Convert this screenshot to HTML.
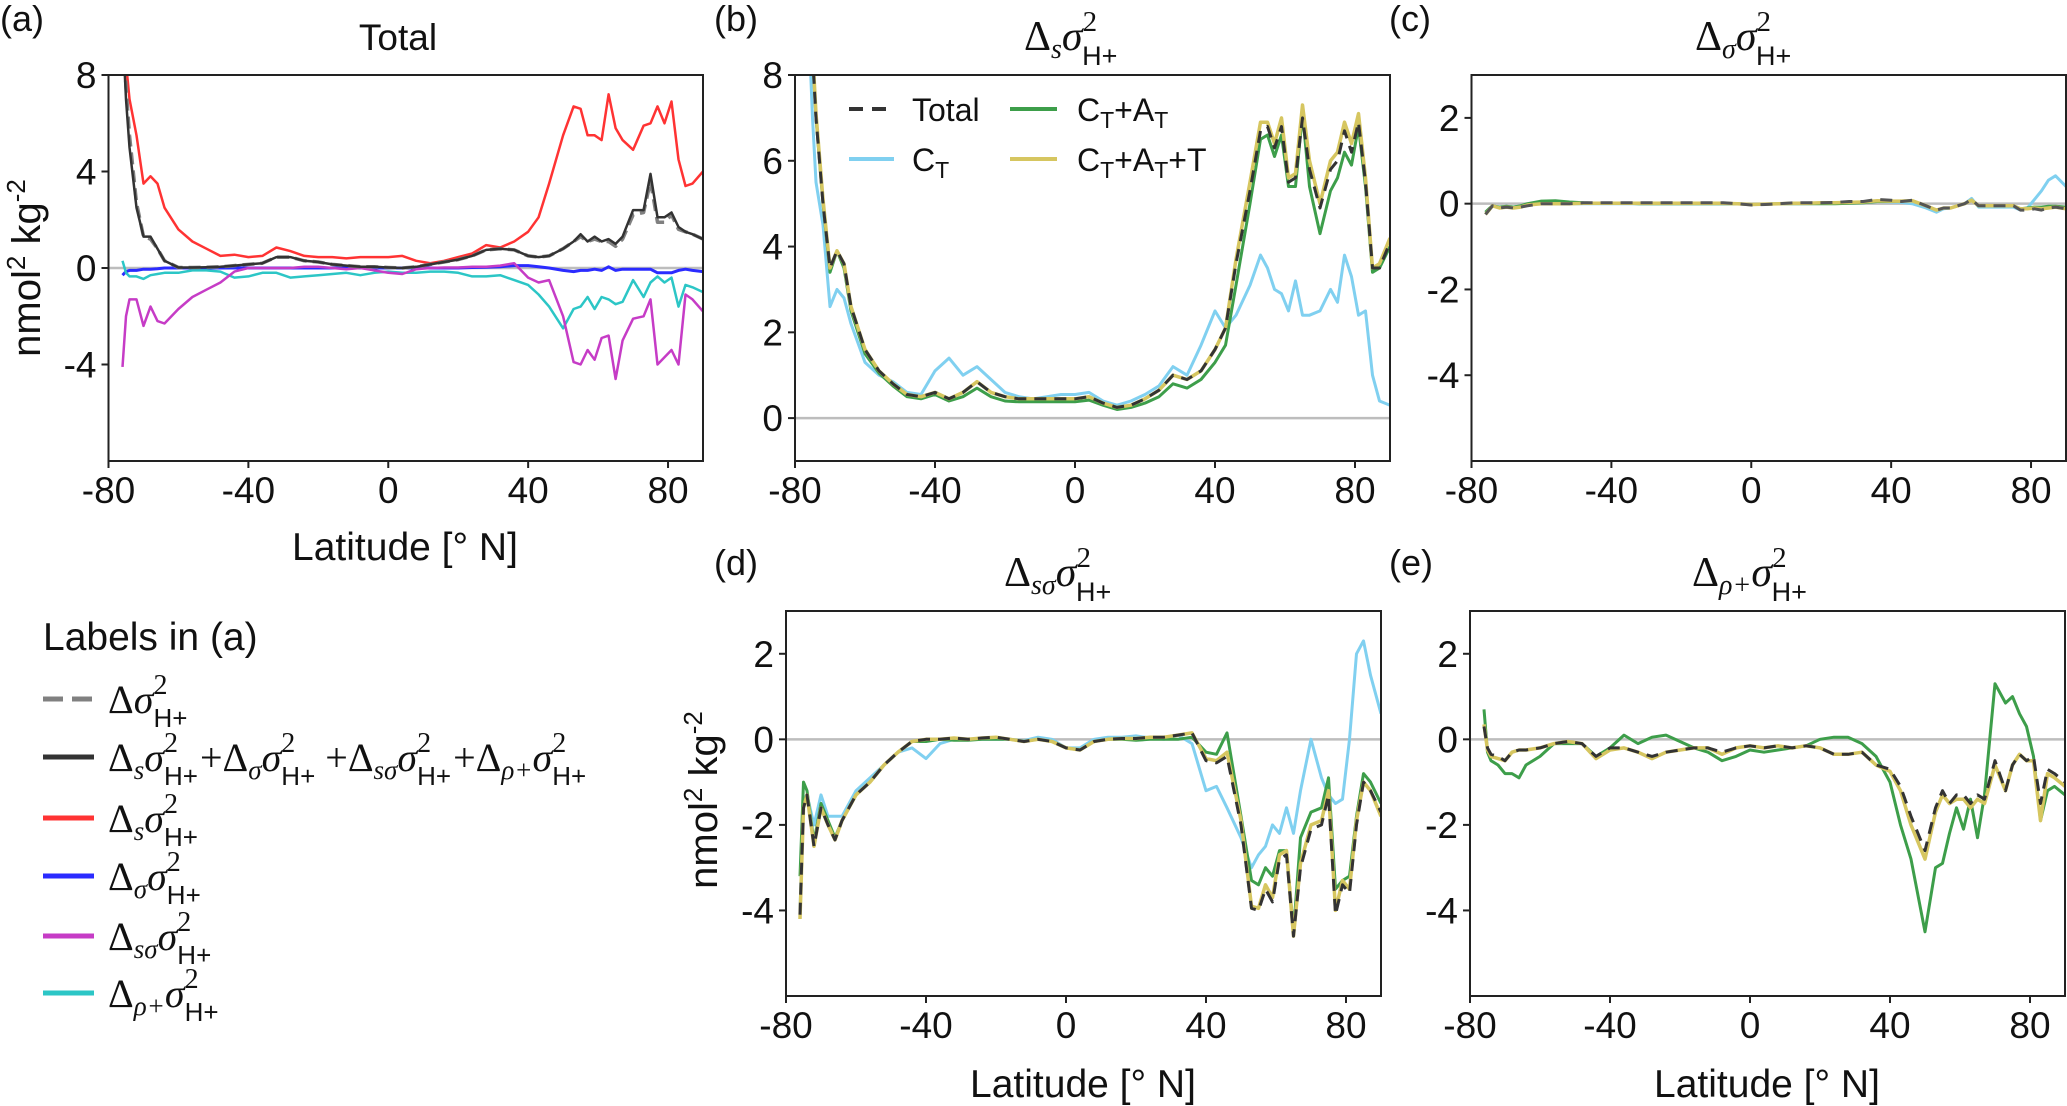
<!DOCTYPE html>
<html><head><meta charset="utf-8">
<style>
html,body{margin:0;padding:0;background:#fff;}
svg{display:block;}
text{font-family:"Liberation Sans",sans-serif;fill:#111;}
.m{font-family:"Liberation Serif",serif;}
</style></head>
<body>
<svg id="fig" width="2067" height="1106" viewBox="0 0 2067 1106" xmlns="http://www.w3.org/2000/svg">
<!-- panel letters -->
<text x="0" y="31" font-size="36">(a)</text>
<text x="714" y="31" font-size="36">(b)</text>
<text x="1389" y="31" font-size="36">(c)</text>
<text x="714" y="575" font-size="36">(d)</text>
<text x="1389" y="575" font-size="36">(e)</text>

<!-- titles -->
<text x="398" y="50" font-size="37" text-anchor="middle">Total</text>
<text class="m" x="1024" y="50" font-size="42">Δ<tspan font-style="italic" font-size="28" dy="8">s</tspan><tspan font-style="italic" dy="-8">σ</tspan><tspan font-size="29" dy="-19">2</tspan><tspan font-family="Liberation Sans" font-size="27" dx="-15" dy="34">H+</tspan></text>
<text class="m" x="1695" y="50" font-size="42">Δ<tspan font-style="italic" font-size="28" dy="8">σ</tspan><tspan font-style="italic" dy="-8">σ</tspan><tspan font-size="29" dy="-19">2</tspan><tspan font-family="Liberation Sans" font-size="27" dx="-15" dy="34">H+</tspan></text>
<text class="m" x="1004" y="586" font-size="42">Δ<tspan font-style="italic" font-size="28" dy="8">sσ</tspan><tspan font-style="italic" dy="-8">σ</tspan><tspan font-size="29" dy="-19">2</tspan><tspan font-family="Liberation Sans" font-size="27" dx="-15" dy="34">H+</tspan></text>
<text class="m" x="1692" y="586" font-size="42">Δ<tspan font-style="italic" font-size="28" dy="8">ρ+</tspan><tspan font-style="italic" dy="-8">σ</tspan><tspan font-size="29" dy="-19">2</tspan><tspan font-family="Liberation Sans" font-size="27" dx="-15" dy="34">H+</tspan></text>

<!-- y axis titles -->
<text transform="translate(40,268) rotate(-90)" font-size="40" text-anchor="middle">nmol<tspan font-size="26" dy="-15">2</tspan><tspan dy="15"> kg</tspan><tspan font-size="26" dy="-15">-2</tspan></text>
<text transform="translate(717,800) rotate(-90)" font-size="40" text-anchor="middle">nmol<tspan font-size="26" dy="-15">2</tspan><tspan dy="15"> kg</tspan><tspan font-size="26" dy="-15">-2</tspan></text>

<!-- x axis titles -->
<text x="405" y="560" font-size="39" text-anchor="middle">Latitude [° N]</text>
<text x="1083" y="1097" font-size="39" text-anchor="middle">Latitude [° N]</text>
<text x="1767" y="1097" font-size="39" text-anchor="middle">Latitude [° N]</text>

<!-- legend for panel (a) -->
<g>
<text x="43" y="650" font-size="39">Labels in (a)</text>
<line x1="43" y1="699" x2="94" y2="699" stroke="#808080" stroke-width="5" stroke-dasharray="20,9"/>
<text class="m" x="108" y="713" font-size="40">Δ<tspan font-style="italic">σ</tspan><tspan font-size="28" dy="-19">2</tspan><tspan font-family="Liberation Sans" font-size="26" dx="-14" dy="33">H+</tspan></text>
<line x1="43" y1="757" x2="94" y2="757" stroke="#333" stroke-width="5"/>
<text class="m" x="108" y="771" font-size="40">Δ<tspan font-style="italic" font-size="27" dy="8">s</tspan><tspan font-style="italic" dy="-8">σ</tspan><tspan font-size="28" dy="-19">2</tspan><tspan font-family="Liberation Sans" font-size="26" dx="-14" dy="33">H+</tspan><tspan dy="-14" dx="2">+Δ</tspan><tspan font-style="italic" font-size="27" dy="8">σ</tspan><tspan font-style="italic" dy="-8">σ</tspan><tspan font-size="28" dy="-19">2</tspan><tspan font-family="Liberation Sans" font-size="26" dx="-14" dy="33">H+</tspan><tspan dy="-14" dx="10">+Δ</tspan><tspan font-style="italic" font-size="27" dy="8">sσ</tspan><tspan font-style="italic" dy="-8">σ</tspan><tspan font-size="28" dy="-19">2</tspan><tspan font-family="Liberation Sans" font-size="26" dx="-14" dy="33">H+</tspan><tspan dy="-14" dx="2">+Δ</tspan><tspan font-style="italic" font-size="27" dy="8">ρ+</tspan><tspan font-style="italic" dy="-8">σ</tspan><tspan font-size="28" dy="-19">2</tspan><tspan font-family="Liberation Sans" font-size="26" dx="-14" dy="33">H+</tspan></text>
<line x1="43" y1="818" x2="94" y2="818" stroke="#ff3333" stroke-width="5"/>
<text class="m" x="108" y="832" font-size="40">Δ<tspan font-style="italic" font-size="27" dy="8">s</tspan><tspan font-style="italic" dy="-8">σ</tspan><tspan font-size="28" dy="-19">2</tspan><tspan font-family="Liberation Sans" font-size="26" dx="-14" dy="33">H+</tspan></text>
<line x1="43" y1="876" x2="94" y2="876" stroke="#2b2bff" stroke-width="5"/>
<text class="m" x="108" y="890" font-size="40">Δ<tspan font-style="italic" font-size="27" dy="8">σ</tspan><tspan font-style="italic" dy="-8">σ</tspan><tspan font-size="28" dy="-19">2</tspan><tspan font-family="Liberation Sans" font-size="26" dx="-14" dy="33">H+</tspan></text>
<line x1="43" y1="936" x2="94" y2="936" stroke="#c63cc6" stroke-width="5"/>
<text class="m" x="108" y="950" font-size="40">Δ<tspan font-style="italic" font-size="27" dy="8">sσ</tspan><tspan font-style="italic" dy="-8">σ</tspan><tspan font-size="28" dy="-19">2</tspan><tspan font-family="Liberation Sans" font-size="26" dx="-14" dy="33">H+</tspan></text>
<line x1="43" y1="993" x2="94" y2="993" stroke="#2cc6c6" stroke-width="5"/>
<text class="m" x="108" y="1007" font-size="40">Δ<tspan font-style="italic" font-size="27" dy="8">ρ+</tspan><tspan font-style="italic" dy="-8">σ</tspan><tspan font-size="28" dy="-19">2</tspan><tspan font-family="Liberation Sans" font-size="26" dx="-14" dy="33">H+</tspan></text>
</g>

<g id="plots"></g>

<!-- legend panel (b) -->
<g>
<line x1="849" y1="109" x2="894" y2="109" stroke="#333" stroke-width="4" stroke-dasharray="14,9"/>
<text x="912" y="121" font-size="32">Total</text>
<line x1="849" y1="159" x2="894" y2="159" stroke="#80d0f0" stroke-width="4"/>
<text x="912" y="171" font-size="32">C<tspan font-size="23" dy="7">T</tspan></text>
<line x1="1010" y1="109" x2="1057" y2="109" stroke="#3d9e4a" stroke-width="4"/>
<text x="1077" y="121" font-size="32">C<tspan font-size="23" dy="7">T</tspan><tspan dy="-7">+A</tspan><tspan font-size="23" dy="7">T</tspan></text>
<line x1="1010" y1="159" x2="1057" y2="159" stroke="#d6c660" stroke-width="4"/>
<text x="1077" y="171" font-size="32">C<tspan font-size="23" dy="7">T</tspan><tspan dy="-7">+A</tspan><tspan font-size="23" dy="7">T</tspan><tspan dy="-7">+T</tspan></text>
</g>
</svg>

<script>
// Shared latitude grid (°N)
const LAT = [-76,-75,-74,-72,-70,-68,-66,-64,-60,-56,-52,-48,-44,-40,-36,-32,-28,-24,-20,-16,-12,-8,-4,0,4,8,12,16,20,24,28,32,36,40,43,46,50,53,55,57,59,61,63,65,67,70,73,75,77,79,81,83,85,87,90];
const X_TICKS = [-80,-40,0,40,80];
const X_TICK_LABELS = ["-80","-40","0","40","80"];

// Panel (a) Total
const A_TICKS = [8,4,0,-4];
const A_TICK_LABELS = ["8","4","0","-4"];
const aRed = [9,8.5,7,5.5,3.5, 3.8,3.5,2.5,1.6,1.1, 0.8,0.5,0.55,0.45,0.5, 0.85,0.7,0.5,0.45,0.45, 0.4,0.45,0.45,0.45,0.5, 0.3,0.2,0.3,0.45,0.6, 0.95,0.85,1.1,1.5,2.1, 3.5,5.5,6.7,6.6,5.5, 5.5,5.3,7.2,5.8,5.3, 4.9,5.9,6.0,6.7,6.0, 6.9,4.5,3.4,3.5,4.0];
const aBlack = [10,7,5,2.5,1.3, 1.3,0.8,0.3,0.02,0.02, 0.03,0.05,0.1,0.15,0.2, 0.45,0.45,0.3,0.25,0.15, 0.1,0.05,0.05,0.02,0.0, 0.05,0.15,0.25,0.35,0.5, 0.75,0.8,0.75,0.5,0.45, 0.5,0.8,1.1,1.4,1.1, 1.3,1.1,1.2,1.0,1.3, 2.4,2.4,3.9,2.1,2.1, 2.3,1.7,1.5,1.4,1.2];
const aGrey = [10,7.5,5.5,2.7,1.3, 1.2,0.8,0.3,0.02,0.02, 0.03,0.05,0.1,0.15,0.2, 0.45,0.45,0.3,0.25,0.15, 0.1,0.05,0.05,0.02,0.0, 0.05,0.15,0.25,0.35,0.5, 0.75,0.8,0.75,0.5,0.45, 0.5,0.8,1.1,1.3,1.1, 1.2,1.1,1.1,0.9,1.2, 2.2,2.3,3.6,1.9,1.9, 2.2,1.6,1.5,1.4,1.2];
const aBlue = [-0.3,-0.15,-0.1,-0.1,-0.05, -0.05,-0.03,0,0,0, 0,0,0,0,0, 0,0,0,0,0, 0,0,0,0,0, 0,0,0,0,0.02, 0.03,0.05,0.1,0.1,0.05, 0.0,-0.1,-0.15,-0.1,-0.1, -0.05,-0.1,0.05,-0.1,-0.05, -0.05,-0.05,-0.05,-0.2,-0.2, -0.2,-0.1,-0.05,-0.1,-0.15];
const aMagenta = [-4.1,-2,-1.3,-1.3,-2.4, -1.6,-2.2,-2.3,-1.7,-1.2, -0.9,-0.6,-0.15,0,0, 0,0,0.05,0.05,0, -0.05,0,-0.1,-0.2,-0.25, -0.05,0,0.02,0.02,0.05, 0.05,0.1,0.2,-0.4,-0.6, -0.5,-2.0,-3.9,-4.0,-3.4, -3.8,-2.9,-2.8,-4.6,-3.0, -2.1,-2.0,-1.3,-4.0,-3.7, -3.4,-4.0,-1.1,-1.3,-1.8];
const aCyan = [0.3,-0.2,-0.35,-0.35,-0.45, -0.3,-0.25,-0.2,-0.2,-0.1, -0.1,-0.15,-0.4,-0.35,-0.2, -0.2,-0.4,-0.35,-0.3,-0.25, -0.2,-0.3,-0.2,-0.15,-0.2, -0.2,-0.15,-0.15,-0.2,-0.35, -0.35,-0.3,-0.5,-0.7,-1.1, -1.6,-2.5,-1.7,-1.6,-1.2, -1.7,-1.2,-1.3,-1.5,-1.4, -0.5,-1.2,-0.6,-0.35,-0.6, -0.4,-1.6,-0.7,-0.8,-1.0];

// Panel (b)
const B_TICKS = [0,2,4,6,8];
const B_TICK_LABELS = ["0","2","4","6","8"];
const bTotal = [9,8.5,7,5,3.5, 3.9,3.6,2.6,1.6,1.1, 0.8,0.55,0.5,0.6,0.45, 0.6,0.85,0.6,0.5,0.45, 0.45,0.45,0.45,0.45,0.5, 0.35,0.25,0.3,0.45,0.65, 1.0,0.9,1.1,1.6,2.1, 3.6,5.3,6.7,6.8,6.3, 6.8,5.5,5.6,7.0,5.8, 4.9,5.8,6.0,6.7,6.2, 6.9,5.5,3.5,3.5,4.1];
const bCtAtT = [9,8.6,7.1,5.1,3.5, 3.9,3.6,2.6,1.6,1.1, 0.8,0.55,0.5,0.6,0.45, 0.6,0.85,0.6,0.5,0.45, 0.45,0.45,0.45,0.45,0.5, 0.35,0.25,0.3,0.45,0.65, 1.0,0.9,1.1,1.6,2.1, 3.7,5.5,6.9,6.9,6.4, 7.0,5.6,5.7,7.3,6.0, 5.0,6.0,6.2,6.9,6.4, 7.1,5.6,3.5,3.6,4.2];
const bCtAt = [9,8.5,7,5,3.4, 3.9,3.5,2.5,1.5,1.05, 0.75,0.5,0.45,0.55,0.4, 0.5,0.7,0.5,0.4,0.38, 0.38,0.38,0.38,0.38,0.42, 0.3,0.2,0.25,0.35,0.5, 0.8,0.7,0.9,1.3,1.7, 3.1,5.0,6.5,6.6,6.1, 6.6,5.4,5.4,7.1,5.4, 4.3,5.3,5.6,6.2,5.9, 6.8,5.4,3.4,3.5,4.0];
const bCt = [9,7,5.5,4.5,2.6, 3.0,2.8,2.2,1.3,1.0, 0.85,0.6,0.55,1.1,1.4, 1.0,1.2,0.9,0.6,0.5, 0.45,0.5,0.55,0.55,0.6, 0.4,0.3,0.4,0.55,0.75, 1.2,1.0,1.7,2.5,2.1, 2.4,3.1,3.8,3.5,3.0, 2.9,2.5,3.2,2.4,2.4, 2.5,3.0,2.7,3.8,3.3, 2.4,2.5,1.0,0.4,0.3];

// Panels (c)-(e)
const CDE_TICKS = [2,0,-2,-4];
const CDE_TICK_LABELS = ["2","0","-2","-4"];
const cTotal = [-0.25,-0.15,-0.05,-0.1,-0.08, -0.1,-0.08,-0.05,0,0, 0,0.02,0.02,0.02,0.02, 0.02,0.02,0.02,0.02,0.02, 0.02,0.02,0,-0.03,-0.02, 0,0.02,0.02,0.02,0.03, 0.05,0.05,0.1,0.08,0.05, 0.08,-0.05,-0.15,-0.1,-0.1, -0.05,0,0.1,-0.05,-0.05, -0.05,-0.05,-0.05,-0.15,-0.15, -0.12,-0.15,-0.1,-0.08,-0.12];
const cCtAtT = [-0.25,-0.15,-0.05,-0.1,-0.08, -0.1,-0.08,-0.03,0,0, 0,0.01,0.01,0.01,0.01, 0.01,0.01,0.01,0.01,0.01, 0.01,0.01,0,-0.02,-0.01, 0,0.01,0.01,0.02,0.02, 0.03,0.04,0.07,0.06,0.06, 0.07,-0.05,-0.15,-0.1,-0.1, -0.05,0,0.08,-0.05,-0.05, -0.05,-0.05,-0.05,-0.12,-0.12, -0.1,-0.12,-0.1,-0.08,-0.12];
const cCtAt = [-0.2,-0.12,-0.05,-0.08,-0.06, -0.08,-0.05,0.0,0.06,0.07, 0.04,0.02,0.01,0.01,0.01, 0.0,0.0,0.0,0.0,0.0, 0.0,0.0,0,-0.02,-0.01, 0,0.0,0.0,0.0,0.0, 0.01,0.02,0.05,0.05,0.06, 0.07,-0.05,-0.15,-0.1,-0.1, -0.05,0,0.08,-0.05,-0.05, -0.05,-0.05,-0.05,-0.12,-0.1, -0.08,-0.08,-0.06,-0.06,-0.08];
const cCt = [-0.2,-0.12,-0.05,-0.08,-0.06, -0.08,-0.05,-0.02,0,0, 0,0.0,0.0,0.0,0.0, 0.0,0.0,0.0,0.0,0.0, 0.0,0.0,0,-0.02,-0.01, 0,0.01,0.01,0.01,0.01, 0.02,0.02,0.05,0.04,0.03, 0.0,-0.1,-0.2,-0.12,-0.1, -0.05,0,0.12,-0.08,-0.08, -0.08,-0.08,-0.08,-0.15,-0.1, 0.1,0.3,0.55,0.65,0.4];

const dTotal = [-4.1,-1.6,-1.3,-2.5,-1.6, -2.0,-2.35,-1.9,-1.3,-1.0, -0.6,-0.3,-0.05,0,0, 0.03,0,0.03,0.05,0, -0.05,0,-0.05,-0.2,-0.25, -0.05,0,0.02,0.02,0.05, 0.05,0.1,0.15,-0.5,-0.55, -0.4,-2.0,-3.95,-4.0,-3.5, -3.8,-2.8,-2.7,-4.6,-3.0, -2.1,-2.0,-1.3,-4.1,-3.4, -3.6,-2.0,-1.0,-1.2,-1.7];
const dCtAtT = [-4.2,-1.6,-1.3,-2.5,-1.6, -2.0,-2.35,-1.9,-1.3,-1.0, -0.6,-0.3,-0.05,0,0, 0.03,0,0.03,0.05,0, -0.05,0,-0.05,-0.2,-0.25, -0.05,0,0.02,0.02,0.05, 0.05,0.1,0.15,-0.45,-0.5, -0.3,-1.9,-3.9,-3.95,-3.4, -3.7,-2.7,-2.6,-4.6,-2.9, -2.0,-1.9,-1.2,-4.0,-3.3, -3.5,-1.9,-1.0,-1.2,-1.8];
const dCtAt = [-3.2,-1.0,-1.2,-2.4,-1.5, -1.9,-2.3,-1.9,-1.3,-1.0, -0.6,-0.3,-0.05,-0.05,0, -0.02,-0.02,0,0,0, -0.05,0,-0.05,-0.2,-0.25, -0.05,0,0,-0.02,0, 0,0,0.05,-0.3,-0.35, 0.15,-1.8,-3.3,-3.4,-3.0, -3.2,-2.6,-2.6,-4.5,-2.3, -1.7,-1.6,-0.9,-3.5,-3.3, -3.2,-1.8,-0.8,-1.0,-1.5];
const dCt = [-4.0,-1.4,-1.3,-2.0,-1.3, -1.8,-1.8,-1.8,-1.2,-0.9, -0.6,-0.3,-0.2,-0.45,-0.1, 0,0,0,0,0, -0.03,0.05,0,-0.2,-0.2, 0,0.05,0.05,0.08,0.03, 0,0.1,-0.1,-1.2,-1.1, -1.6,-2.3,-3.0,-2.7,-2.5, -2.0,-2.2,-1.6,-2.2,-1.2, 0.0,-0.9,-1.3,-1.5,-1.4, 0.0,2.0,2.3,1.5,0.6];

const eTotal = [0.3,-0.2,-0.35,-0.4,-0.5, -0.3,-0.25,-0.25,-0.2,-0.1, -0.05,-0.1,-0.4,-0.2,-0.2, -0.3,-0.4,-0.3,-0.25,-0.2, -0.2,-0.3,-0.2,-0.15,-0.2, -0.15,-0.2,-0.15,-0.2,-0.35, -0.35,-0.3,-0.6,-0.7,-1.1, -1.8,-2.6,-1.6,-1.2,-1.5, -1.3,-1.3,-1.5,-1.3,-1.4, -0.5,-1.2,-0.6,-0.35,-0.5, -0.4,-1.5,-0.7,-0.8,-1.0];
const eCtAtT = [0.35,-0.25,-0.4,-0.45,-0.5, -0.3,-0.25,-0.25,-0.2,-0.1, -0.05,-0.1,-0.45,-0.25,-0.2, -0.3,-0.45,-0.3,-0.25,-0.2, -0.2,-0.35,-0.2,-0.15,-0.2, -0.15,-0.2,-0.15,-0.2,-0.35, -0.35,-0.3,-0.6,-0.75,-1.2, -2.0,-2.8,-1.7,-1.3,-1.5, -1.4,-1.4,-1.6,-1.4,-1.5, -0.6,-1.2,-0.6,-0.35,-0.5, -0.5,-1.9,-0.8,-0.9,-1.1];
const eCtAt = [0.7,-0.3,-0.5,-0.6,-0.8, -0.8,-0.9,-0.6,-0.4,-0.1, -0.1,-0.1,-0.4,-0.2,0.1, -0.1,0.05,0.1,-0.05,-0.2, -0.3,-0.5,-0.4,-0.25,-0.3, -0.25,-0.2,-0.15,0.0,0.05, 0.05,-0.1,-0.4,-1.0,-2.0, -2.8,-4.5,-3.0,-2.9,-2.2, -1.6,-2.1,-1.4,-2.3,-1.3, 1.3,0.85,1.0,0.6,0.3, -0.4,-1.9,-1.2,-1.1,-1.3];

const NS = "http://www.w3.org/2000/svg";
const plots = document.getElementById('plots');

function makePanel(id, x0, x1, yTop, yBot, yMin, yMax, yTicks, yTickLabels) {
  const xs = v => x0 + (v + 80) / 170 * (x1 - x0);
  const ys = v => yBot - (v - yMin) / (yMax - yMin) * (yBot - yTop);
  const g = document.createElementNS(NS, 'g');
  
  
  plots.appendChild(g);
  const clip = document.createElementNS(NS, 'clipPath');
  clip.setAttribute('id', 'clip-' + id);
  const cr = document.createElementNS(NS, 'rect');
  cr.setAttribute('x', x0); cr.setAttribute('y', yTop);
  cr.setAttribute('width', x1 - x0); cr.setAttribute('height', yBot - yTop);
  clip.appendChild(cr); g.appendChild(clip);
  const z = document.createElementNS(NS, 'line');
  
  
  z.setAttribute('x1', x0); z.setAttribute('x2', x1);
  z.setAttribute('y1', ys(0)); z.setAttribute('y2', ys(0));
  z.setAttribute('stroke', '#bdbdbd'); z.setAttribute('stroke-width', '2.5');
  g.appendChild(z);
  const series = document.createElementNS(NS, 'g');
  series.setAttribute('clip-path', 'url(#clip-' + id + ')');
  
  
  g.appendChild(series);
  const fr = document.createElementNS(NS, 'rect');
  
  
  fr.setAttribute('x', x0); fr.setAttribute('y', yTop);
  fr.setAttribute('width', x1 - x0); fr.setAttribute('height', yBot - yTop);
  fr.setAttribute('fill', 'none'); fr.setAttribute('stroke', '#222'); fr.setAttribute('stroke-width', '2');
  g.appendChild(fr);
  X_TICKS.forEach((t, i) => {
    const tk = document.createElementNS(NS, 'line');
    
    
    tk.setAttribute('x1', xs(t)); tk.setAttribute('x2', xs(t));
    tk.setAttribute('y1', yBot); tk.setAttribute('y2', yBot + 7);
    tk.setAttribute('stroke', '#222'); tk.setAttribute('stroke-width', '2');
    g.appendChild(tk);
    const tl = document.createElementNS(NS, 'text');
    
    
    tl.setAttribute('x', xs(t)); tl.setAttribute('y', yBot + 42);
    tl.setAttribute('font-size', '37'); tl.setAttribute('text-anchor', 'middle');
    tl.textContent = X_TICK_LABELS[i];
    g.appendChild(tl);
  });
  yTicks.forEach((t, i) => {
    const tk = document.createElementNS(NS, 'line');
    
    
    tk.setAttribute('x1', x0 - 7); tk.setAttribute('x2', x0);
    tk.setAttribute('y1', ys(t)); tk.setAttribute('y2', ys(t));
    tk.setAttribute('stroke', '#222'); tk.setAttribute('stroke-width', '2');
    g.appendChild(tk);
    const tl = document.createElementNS(NS, 'text');
    
    
    tl.setAttribute('x', x0 - 12); tl.setAttribute('y', ys(t) + 13);
    tl.setAttribute('font-size', '37'); tl.setAttribute('text-anchor', 'end');
    tl.textContent = yTickLabels[i];
    g.appendChild(tl);
  });
  return {xs, ys, series};
}

function drawLine(p, vals, color, width, dash, name) {
  let d = '';
  LAT.forEach((la, i) => { d += (i ? 'L' : 'M') + p.xs(la).toFixed(1) + ',' + p.ys(vals[i]).toFixed(1); });
  const path = document.createElementNS(NS, 'path');
  
  
  path.setAttribute('d', d);
  path.setAttribute('fill', 'none');
  path.setAttribute('stroke', color);
  path.setAttribute('stroke-width', width);
  path.setAttribute('stroke-linejoin', 'round');
  if (dash) path.setAttribute('stroke-dasharray', dash);
  p.series.appendChild(path);
}

const pa = makePanel('a', 108.5, 703, 75, 461, -8, 8, A_TICKS, A_TICK_LABELS);
drawLine(pa, aBlue, '#2b2bff', 3, null, 'line-a-dsigma');
drawLine(pa, aCyan, '#2cc6c6', 2.5, null, 'line-a-drho');
drawLine(pa, aMagenta, '#c63cc6', 2.5, null, 'line-a-dssigma');
drawLine(pa, aRed, '#ff3333', 2.5, null, 'line-a-ds');
drawLine(pa, aGrey, '#808080', 3.5, '12,6', 'line-a-total');
drawLine(pa, aBlack, '#333333', 2.5, null, 'line-a-sum');

const pb = makePanel('b', 795, 1390, 75, 461, -1, 8, B_TICKS, B_TICK_LABELS);
drawLine(pb, bCt, '#80d0f0', 3, null, 'line-b-ct');
drawLine(pb, bCtAt, '#3d9e4a', 3, null, 'line-b-ctat');
drawLine(pb, bCtAtT, '#d6c660', 3.5, null, 'line-b-ctatt');
drawLine(pb, bTotal, '#333333', 3, '12,8', 'line-b-total');

const pc = makePanel('c', 1471.5, 2066, 75, 461, -6, 3, CDE_TICKS, CDE_TICK_LABELS);
drawLine(pc, cCt, '#80d0f0', 3, null, 'line-c-ct');
drawLine(pc, cCtAt, '#3d9e4a', 3, null, 'line-c-ctat');
drawLine(pc, cCtAtT, '#d6c660', 3.5, null, 'line-c-ctatt');
drawLine(pc, cTotal, '#555555', 3, '12,8', 'line-c-total');

const pd = makePanel('d', 786, 1381, 611, 996, -6, 3, CDE_TICKS, CDE_TICK_LABELS);
drawLine(pd, dCt, '#80d0f0', 3, null, 'line-d-ct');
drawLine(pd, dCtAt, '#3d9e4a', 3, null, 'line-d-ctat');
drawLine(pd, dCtAtT, '#d6c660', 3.5, null, 'line-d-ctatt');
drawLine(pd, dTotal, '#333333', 3, '12,8', 'line-d-total');

const pe = makePanel('e', 1470, 2065, 611, 996, -6, 3, CDE_TICKS, CDE_TICK_LABELS);
drawLine(pe, eCtAt, '#3d9e4a', 3, null, 'line-e-ctat');
drawLine(pe, eCtAtT, '#d6c660', 3.5, null, 'line-e-ctatt');
drawLine(pe, eTotal, '#333333', 3, '12,8', 'line-e-total');
</script>
</body></html>
